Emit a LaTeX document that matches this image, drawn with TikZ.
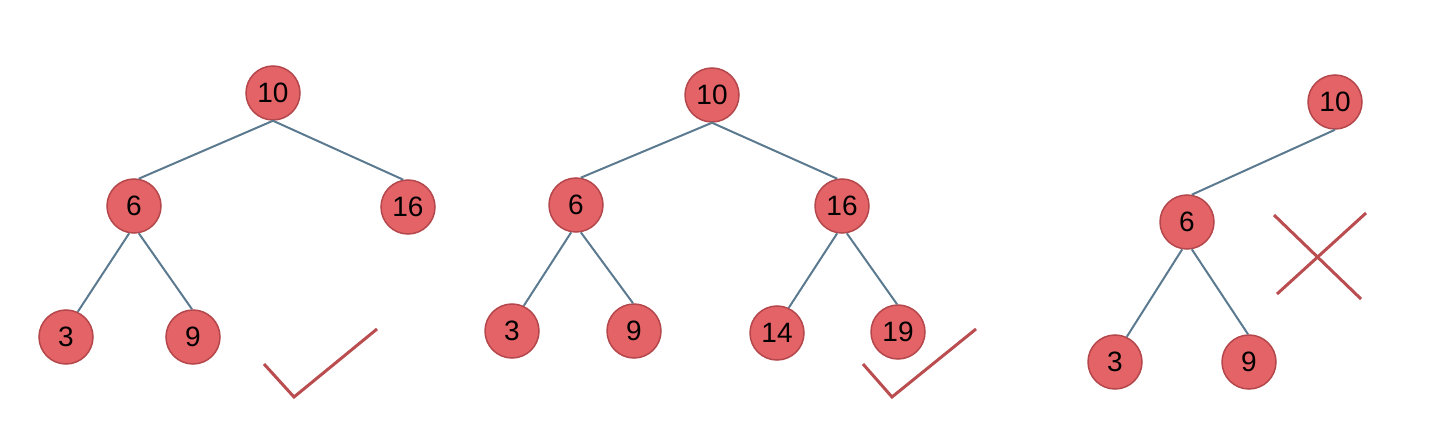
\documentclass[tikz,border=0pt]{standalone}
\usepackage{fontspec}
\setmainfont{Liberation Sans}
\definecolor{keyfill}{HTML}{E36367}
\definecolor{keyline}{HTML}{B4474B}
\definecolor{linkcol}{HTML}{5B7A90}
\definecolor{signcol}{HTML}{BA4D50}
\begin{document}
\begin{tikzpicture}[x=1pt,y=-1pt,
  key/.style={circle,draw=keyline,fill=keyfill,line width=1.5pt,minimum size=54pt,inner sep=0pt,
    font=\fontsize{28}{32}\selectfont},
  link/.style={draw=linkcol,line width=2pt},
  sign/.style={draw=signcol,line width=3pt}]
  \useasboundingbox (0,0) rectangle (1444,425);
  % valid tree
  \node[key] (a10) at (273,93) {10};
  \node[key] (a6) at (134,206) {6};
  \node[key] (a16) at (408,207) {16};
  \node[key] (a3) at (66,337) {3};
  \node[key] (a9) at (193,337) {9};
  \draw[link] (a10.south) -- (a6.80);
  \draw[link] (a10.south) -- (a16.100);
  \draw[link] (a6.-100) -- (a3.65);
  \draw[link] (a6.-80) -- (a9.92);
  \coordinate (ok1a) at (264,364);
  \coordinate (ok1b) at (294,397);
  \coordinate (ok1c) at (377,329);
  \draw[sign] (ok1a) -- (ok1b) -- (ok1c);
  % full tree
  \node[key] (b10) at (712,95) {10};
  \node[key] (b6) at (576,205) {6};
  \node[key] (b16) at (842,206) {16};
  \node[key] (b3) at (512,331) {3};
  \node[key] (b9) at (634,331) {9};
  \node[key] (b14) at (777,333) {14};
  \node[key] (b19) at (898,332) {19};
  \draw[link] (b10.south) -- (b6.80);
  \draw[link] (b10.south) -- (b16.100);
  \draw[link] (b6.-100) -- (b3.65);
  \draw[link] (b6.-80) -- (b9.92);
  \draw[link] (b16.-100) -- (b14.65);
  \draw[link] (b16.-80) -- (b19.92);
  \coordinate (ok2a) at (863,364);
  \coordinate (ok2b) at (892,397);
  \coordinate (ok2c) at (976,329);
  \draw[sign] (ok2a) -- (ok2b) -- (ok2c);
  % invalid tree
  \node[key] (c10) at (1335,102) {10};
  \node[key] (c6) at (1187,222) {6};
  \node[key] (c3) at (1115,362) {3};
  \node[key] (c9) at (1249,362) {9};
  \draw[link] (c10.south) -- (c6.80);
  \draw[link] (c6.-100) -- (c3.65);
  \draw[link] (c6.-80) -- (c9.92);
  \coordinate (noa) at (1274,215);
  \coordinate (nob) at (1361,299);
  \coordinate (noc) at (1277,294);
  \coordinate (nod) at (1366,213);
  \draw[sign] (noa) -- (nob);
  \draw[sign] (noc) -- (nod);
\end{tikzpicture}
\end{document}
